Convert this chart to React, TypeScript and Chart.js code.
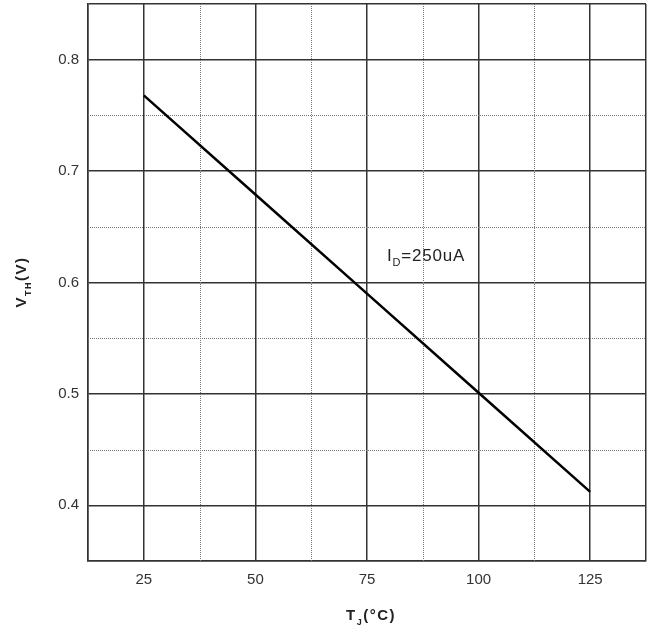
import React, { useEffect, useRef } from 'react';
import { Chart, registerables } from 'chart.js';

Chart.register(...registerables);

// Data
const temps = [25, 50, 75, 100, 125];
const vth = [0.768, 0.679, 0.59, 0.501, 0.412];
const xMajorTicks = [25, 50, 75, 100, 125];
const yMajorTicks = [0.4, 0.5, 0.6, 0.7, 0.8];
const xMinorGrid = [37.5, 62.5, 87.5, 112.5];
const yMinorGrid = [0.45, 0.55, 0.65, 0.75];
const curveLabel = { x: 79.5, y: 0.619, main: 'I', sub: 'D', rest: '=250uA' };

const FONT = '"Liberation Sans", Arial, Helvetica, sans-serif';

type Part = { t: string; sub?: boolean };

function drawRich(ctx: any, parts: Part[], x: number, y: number, size: number, subSize: number, weight: string, align: 'center' | 'left', spacing: number) {
  ctx.letterSpacing = `${spacing}px`;
  let total = 0;
  const widths = parts.map((p) => {
    ctx.font = `${weight} ${p.sub ? subSize : size}px ${FONT}`;
    const w = ctx.measureText(p.t).width;
    total += w;
    return w;
  });
  let cx = align === 'center' ? x - total / 2 : x;
  ctx.textAlign = 'left';
  ctx.textBaseline = 'alphabetic';
  parts.forEach((p, i) => {
    ctx.font = `${weight} ${p.sub ? subSize : size}px ${FONT}`;
    ctx.fillText(p.t, cx, p.sub ? y + size * 0.3 : y);
    cx += widths[i];
  });
  ctx.letterSpacing = '0px';
}

const isMajorX = (v: number) => xMajorTicks.some((m) => Math.abs(m - v) < 1e-6);
const isMajorY = (v: number) => yMajorTicks.some((m) => Math.abs(m - v) < 1e-6);

const extrasPlugin = {
  id: 'extras',
  beforeDatasetsDraw(chart: any) {
    const { ctx, chartArea, scales } = chart;
    ctx.save();
    ctx.strokeStyle = '#777';
    ctx.lineWidth = 1;
    ctx.setLineDash([1, 1]);
    xMinorGrid.forEach((v) => {
      const px = Math.round(scales.x.getPixelForValue(v)) + 0.5;
      ctx.beginPath();
      ctx.moveTo(px, chartArea.top);
      ctx.lineTo(px, chartArea.bottom);
      ctx.stroke();
    });
    yMinorGrid.forEach((v) => {
      const py = Math.round(scales.y.getPixelForValue(v)) + 0.5;
      ctx.beginPath();
      ctx.moveTo(chartArea.left, py);
      ctx.lineTo(chartArea.right, py);
      ctx.stroke();
    });
    ctx.restore();
  },
  afterDraw(chart: any) {
    const { ctx, chartArea, scales } = chart;
    ctx.save();
    ctx.fillStyle = '#222';
    const lx = scales.x.getPixelForValue(curveLabel.x);
    const ly = scales.y.getPixelForValue(curveLabel.y);
    drawRich(ctx, [{ t: curveLabel.main }, { t: curveLabel.sub, sub: true }, { t: curveLabel.rest }], lx, ly, 17, 11, 'normal', 'left', 0.8);
    const xc = (chartArea.left + chartArea.right) / 2 + 4;
    drawRich(ctx, [{ t: 'T' }, { t: 'J', sub: true }, { t: '(°C)' }], xc, 620, 15, 9, 'bold', 'center', 1.5);
    ctx.translate(26, 282);
    ctx.rotate(-Math.PI / 2);
    drawRich(ctx, [{ t: 'V' }, { t: 'TH', sub: true }, { t: '(V)' }], 0, 0, 15, 9, 'bold', 'center', 1.5);
    ctx.restore();
  },
};

export default function App() {
  const ref = useRef<HTMLCanvasElement>(null);
  useEffect(() => {
    document.body.style.margin = '0';
    const chart = new Chart(ref.current as HTMLCanvasElement, {
      type: 'line',
      data: {
        datasets: [
          {
            data: temps.map((t, i) => ({ x: t, y: vth[i] })),
            borderColor: '#000',
            borderWidth: 2.5,
            pointRadius: 0,
            fill: false,
            tension: 0,
          },
        ],
      },
      options: {
        animation: false,
        responsive: false,
        devicePixelRatio: 1,
        layout: { padding: { left: 0, top: 4, right: 5, bottom: 0 } },
        plugins: { legend: { display: false }, tooltip: { enabled: false } },
        scales: {
          x: {
            type: 'linear',
            min: 12.5,
            max: 137.5,
            afterFit: (s: any) => {
              s.height = 73;
              s.paddingLeft = 0;
              s.paddingRight = 0;
            },
            ticks: {
              stepSize: 12.5,
              autoSkip: false,
              maxRotation: 0,
              padding: 10,
              color: '#333',
              font: { family: FONT, size: 15 },
              callback: (v: any) => (isMajorX(Number(v)) ? String(v) : ''),
            },
            grid: {
              drawTicks: false,
              lineWidth: 1.5,
              color: (c: any) => {
                const v = c.tick ? c.tick.value : NaN;
                return isMajorX(v) || Math.abs(v - 12.5) < 1e-6 || Math.abs(v - 137.5) < 1e-6 ? '#333' : 'rgba(0,0,0,0)';
              },
            },
            border: { display: true, color: '#333', width: 1.5 },
          },
          y: {
            type: 'linear',
            min: 0.35,
            max: 0.85,
            afterFit: (s: any) => {
              s.width = 88;
              s.paddingTop = 0;
              s.paddingBottom = 0;
            },
            ticks: {
              stepSize: 0.05,
              autoSkip: false,
              padding: 9,
              color: '#333',
              font: { family: FONT, size: 15 },
              callback: (v: any) => (isMajorY(Number(v)) ? Number(v).toFixed(1) : ''),
            },
            grid: {
              drawTicks: false,
              lineWidth: 1.5,
              color: (c: any) => {
                const v = c.tick ? c.tick.value : NaN;
                return isMajorY(v) || Math.abs(v - 0.35) < 1e-6 || Math.abs(v - 0.85) < 1e-6 ? '#333' : 'rgba(0,0,0,0)';
              },
            },
            border: { display: true, color: '#333', width: 1.5 },
          },
        },
      },
      plugins: [extrasPlugin],
    });
    return () => chart.destroy();
  }, []);
  return (
    <div style={{ width: 651, height: 634, background: '#fff' }}>
      <canvas ref={ref} width={651} height={634} style={{ display: 'block' }} />
    </div>
  );
}
